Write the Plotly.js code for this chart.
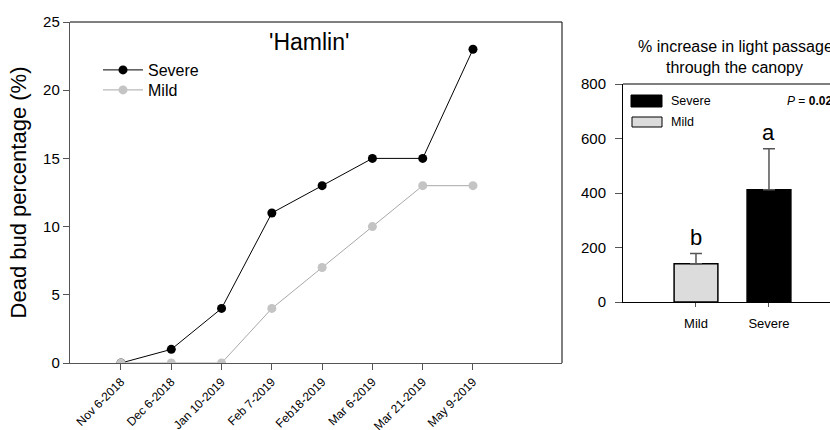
<!DOCTYPE html>
<html>
<head>
<meta charset="utf-8">
<script src="https://cdn.plot.ly/plotly-3.0.1.min.js"></script>
<style>html,body{margin:0;padding:0;background:#fff;}#chart{width:830px;height:430px;}</style>
</head>
<body>
<div id="chart"></div>
<script>
// ---- data ----
const dates = ["Nov 6-2018","Dec 6-2018","Jan 10-2019","Feb 7-2019","Feb18-2019","Mar 6-2019","Mar 21-2019","May 9-2019"];
const severeDead = [0, 1, 4, 11, 13, 15, 15, 23];
const mildDead = [0, 0, 0, 4, 7, 10, 13, 13];
const barCats = ["Mild", "Severe"];
const lightIncrease = [140, 412];
const lightErr = [38, 150];
const sigLetters = ["b", "a"];
const barColors = ["#dcdcdc", "#000000"];

const W = 830, H = 430;
const px = v => v / W;
const py = v => 1 - v / H;
const FONT = "Liberation Sans, Arial, sans-serif";

const traces = [
  {
    x: dates, y: severeDead, name: "Severe", type: "scatter", mode: "lines+markers",
    line: {color: "#000", width: 1}, marker: {color: "#000", size: 9},
    xaxis: "x", yaxis: "y", legend: "legend"
  },
  {
    x: dates, y: mildDead, name: "Mild", type: "scatter", mode: "lines+markers",
    line: {color: "#a8a8a8", width: 1}, marker: {color: "#c4c4c4", size: 9},
    xaxis: "x", yaxis: "y", legend: "legend2"
  },
  {
    x: barCats, y: lightIncrease, type: "bar", showlegend: false,
    width: 0.6,
    marker: {color: barColors, line: {color: "#000", width: 1.5}},
    error_y: {type: "data", symmetric: false, array: lightErr, arrayminus: [0, 0],
              color: "#555", thickness: 1.5, width: 6},
    xaxis: "x2", yaxis: "y2"
  }
];

function txt(text, x, y, size, xanchor) {
  return {text: text, x: px(x), y: py(y), xref: "paper", yref: "paper",
    xanchor: xanchor || "center", yanchor: "middle", showarrow: false,
    font: {size: size, color: "#000", family: FONT}};
}

const annotations = [
  txt("'Hamlin'", 309, 42, 23),
  txt("% increase in light passage", 636, 46, 16, "left"),
  txt("through the canopy", 734, 68, 16),
  txt("<i>P</i> = <b>0.02</b>", 785, 101, 12, "left"),
  txt("Severe", 669, 101, 12.5, "left"),
  txt("Mild", 669, 122, 12.5, "left")
];
barCats.forEach((c, i) => {
  annotations.push({text: sigLetters[i], x: c, y: lightIncrease[i] + lightErr[i],
    xref: "x2", yref: "y2", yanchor: "bottom", yshift: 2, showarrow: false,
    font: {size: 22, color: "#000", family: FONT}});
});

const shapes = [
  // left panel frame top/right
  {type: "line", xref: "paper", yref: "paper", x0: px(70), x1: px(562), y0: py(22), y1: py(22), line: {color: "#000", width: 1}},
  {type: "line", xref: "paper", yref: "paper", x0: px(562), x1: px(562), y0: py(22), y1: py(363), line: {color: "#000", width: 1}},
  // right panel top line
  {type: "line", xref: "paper", yref: "paper", x0: px(623), x1: 1, y0: py(84), y1: py(84), line: {color: "#000", width: 1}},
  // bar legend swatches
  {type: "rect", xref: "paper", yref: "paper", x0: px(631), x1: px(662), y0: py(95), y1: py(107), fillcolor: barColors[1], line: {color: "#000", width: 1}},
  {type: "rect", xref: "paper", yref: "paper", x0: px(632), x1: px(662), y0: py(117), y1: py(127), fillcolor: barColors[0], line: {color: "#000", width: 1}}
];

const legendCommon = {xanchor: "left", yanchor: "middle", bgcolor: "rgba(0,0,0,0)",
  font: {size: 16, family: FONT}, itemwidth: 40};

const layout = {
  width: W, height: H,
  margin: {l: 0, r: 0, t: 0, b: 0},
  paper_bgcolor: "#fff", plot_bgcolor: "rgba(0,0,0,0)",
  font: {family: FONT, color: "#000"},
  showlegend: true,
  legend: Object.assign({x: px(98), y: py(70)}, legendCommon),
  legend2: Object.assign({x: px(98), y: py(90)}, legendCommon),
  xaxis: {
    domain: [px(70), px(562)], anchor: "y", type: "category",
    range: [-1.014, 8.77], showgrid: false, zeroline: false,
    showline: true, linecolor: "#555", linewidth: 1.2,
    ticks: "outside", ticklen: 6, tickcolor: "#555",
    tickangle: -45, tickfont: {size: 12, family: FONT}
  },
  yaxis: {
    domain: [py(363), py(22)], anchor: "x",
    range: [0, 25], tickvals: [0, 5, 10, 15, 20, 25],
    showgrid: false, zeroline: false,
    showline: true, linecolor: "#555", linewidth: 1.2,
    ticks: "outside", ticklen: 6, tickcolor: "#555",
    tickfont: {size: 15, family: FONT},
    title: {text: "Dead bud percentage (%)", font: {size: 22, family: FONT}, standoff: 10}
  },
  xaxis2: {
    domain: [px(623), 1], anchor: "y2", type: "category",
    range: [-1.0, 1.836], showgrid: false, zeroline: false,
    showline: true, linecolor: "#000", linewidth: 1,
    ticks: "outside", ticklen: 4, tickcolor: "#555",
    ticklabelstandoff: 5,
    tickfont: {size: 13, family: FONT}
  },
  yaxis2: {
    domain: [py(302), py(84)], anchor: "x2",
    range: [0, 800], tickvals: [0, 200, 400, 600, 800],
    showgrid: false, zeroline: false,
    showline: true, linecolor: "#000", linewidth: 1,
    ticks: "outside", ticklen: 7, tickcolor: "#555",
    ticklabelstandoff: 6,
    tickfont: {size: 15, family: FONT}
  },
  annotations: annotations,
  shapes: shapes
};

Plotly.newPlot("chart", traces, layout, {displayModeBar: false, staticPlot: true});
</script>
</body>
</html>
